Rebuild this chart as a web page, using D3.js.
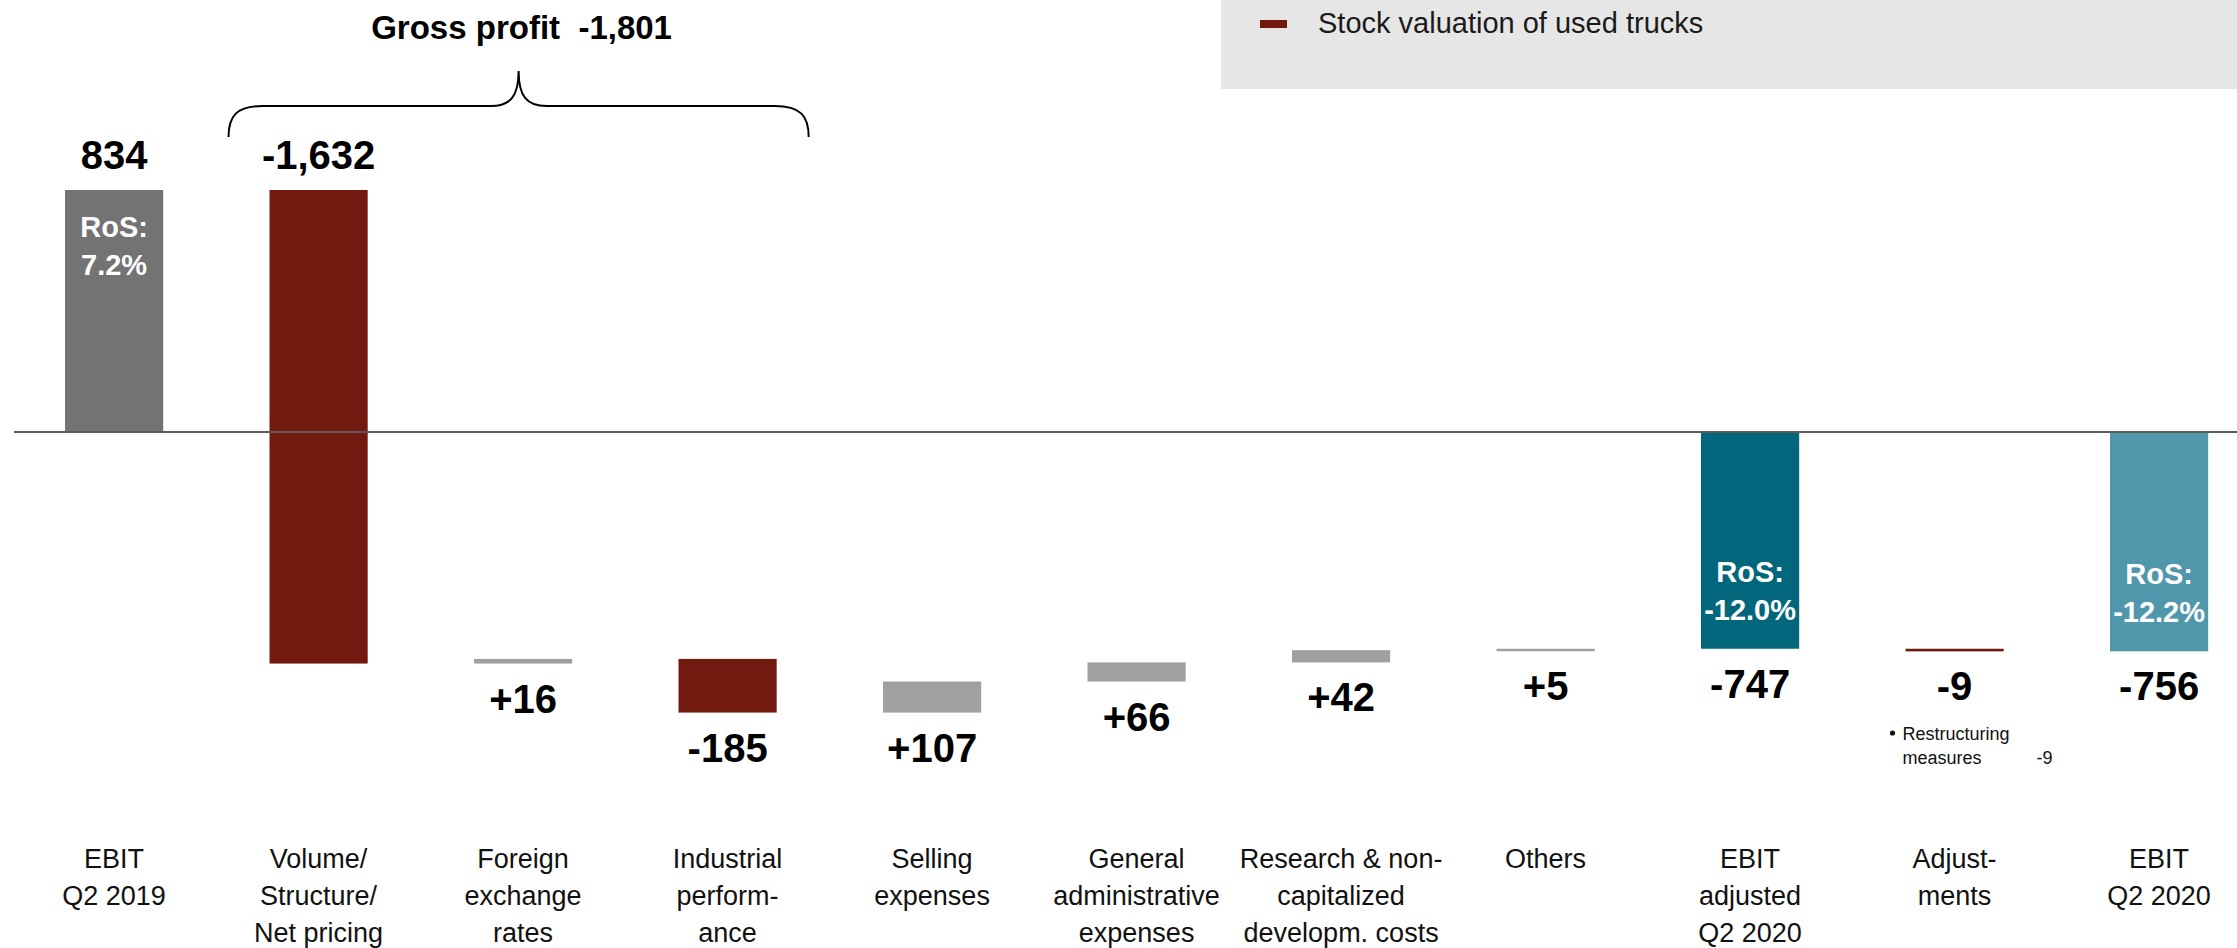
<!DOCTYPE html>
<html>
<head>
<meta charset="utf-8">
<script src="https://cdn.jsdelivr.net/npm/d3@7/dist/d3.min.js"></script>
<style>
  html, body { margin: 0; padding: 0; background: #ffffff; }
  svg { display: block; }
</style>
</head>
<body>
<svg id="chart" width="2237" height="948"></svg>
<script>
// ---------------- data ----------------
const categories = [
  ["EBIT", "Q2 2019"],
  ["Volume/", "Structure/", "Net pricing"],
  ["Foreign", "exchange", "rates"],
  ["Industrial", "perform-", "ance"],
  ["Selling", "expenses"],
  ["General", "administrative", "expenses"],
  ["Research & non-", "capitalized", "developm. costs"],
  ["Others"],
  ["EBIT", "adjusted", "Q2 2020"],
  ["Adjust-", "ments"],
  ["EBIT", "Q2 2020"]
];
const values = [834, -1632, 16, -185, 107, 66, 42, 5, -747, -9, -756];
const barKinds = ["start", "stock", "delta", "stock", "delta", "delta", "delta", "delta", "adjusted", "stock", "end"];
const valueLabels = ["834", "-1,632", "+16", "-185", "+107", "+66", "+42", "+5", "-747", "-9", "-756"];
const rosLabels = ["7.2%", null, null, null, null, null, null, null, "-12.0%", null, "-12.2%"];
const grossProfitLabel = "Gross profit  -1,801";
const legendLabel = "Stock valuation of used trucks";
const noteLines = ["Restructuring", "measures"];
const noteValue = "-9";

const colors = {
  start: "#737373",
  stock: "#721A0F",
  delta: "#A0A0A0",
  adjusted: "#02677C",
  end: "#5197AC"
};

// ---------------- build waterfall ----------------
let running = 0;
const bars = values.map((v, i) => {
  const kind = barKinds[i];
  let a, b;
  if (kind === "start" || kind === "adjusted" || kind === "end") {
    a = 0; b = v; running = v;
  } else {
    a = running; b = running + v; running = b;
  }
  return { i, kind, lo: Math.min(a, b), hi: Math.max(a, b), label: valueLabels[i], ros: rosLabels[i], cat: categories[i] };
});

const svg = d3.select("#chart");
const W = 2237, H = 948;

const x = d3.scaleBand()
  .domain(d3.range(categories.length))
  .range([11.85, 2261.35])
  .paddingInner(0.52)
  .paddingOuter(0.26);

const y = d3.scaleLinear().domain([0, 834]).range([432, 190]);

const FONT = "'Liberation Sans', Arial, sans-serif";

// legend box
svg.append("rect").attr("x", 1221).attr("y", 0).attr("width", W - 1221).attr("height", 89).attr("fill", "#E6E6E6");
svg.append("rect").attr("x", 1260).attr("y", 20).attr("width", 27).attr("height", 8).attr("fill", colors.stock);
svg.append("text").attr("x", 1318).attr("y", 33).attr("font-family", FONT).attr("font-size", 29)
  .attr("fill", "#1a1a1a").text(legendLabel);

// bars
svg.append("g").selectAll("rect").data(bars).join("rect")
  .attr("x", d => x(d.i))
  .attr("width", x.bandwidth())
  .attr("y", d => y(d.hi))
  .attr("height", d => Math.max(2.5, y(d.lo) - y(d.hi)))
  .attr("fill", d => colors[d.kind]);

// baseline on top
svg.append("line").attr("x1", 14).attr("x2", W).attr("y1", y(0)).attr("y2", y(0))
  .attr("stroke", "#5a5a5a").attr("stroke-width", 2);

// value labels
svg.append("g").selectAll("text").data(bars).join("text")
  .attr("x", d => x(d.i) + x.bandwidth() / 2)
  .attr("y", d => d.hi > 0 ? y(d.hi) - 21 : Math.max(y(d.lo), y(d.hi) + 2.5) + 49)
  .attr("text-anchor", "middle")
  .attr("font-family", FONT).attr("font-weight", "bold").attr("font-size", 40)
  .attr("fill", "#000").text(d => d.label);

// RoS labels
const rosG = svg.append("g");
bars.filter(d => d.ros).forEach(d => {
  const cx = x(d.i) + x.bandwidth() / 2;
  const y1 = d.hi > 0 ? y(d.hi) + 47 : y(d.lo) - 67;
  [["RoS:", y1], [d.ros, y1 + 38]].forEach(([t, yy]) => {
    rosG.append("text").attr("x", cx).attr("y", yy).attr("text-anchor", "middle")
      .attr("font-family", FONT).attr("font-weight", "bold").attr("font-size", 29)
      .attr("fill", "#ffffff").text(t);
  });
});

// category labels
const catG = svg.append("g");
bars.forEach(d => {
  const t = catG.append("text").attr("x", x(d.i) + x.bandwidth() / 2).attr("y", 868)
    .attr("text-anchor", "middle").attr("font-family", FONT).attr("font-size", 27).attr("fill", "#111");
  d.cat.forEach((line, k) => {
    t.append("tspan").attr("x", x(d.i) + x.bandwidth() / 2).attr("y", 868 + k * 37).text(line);
  });
});

// brace over gross profit components
const bl = x(1) - 41, br = x(3) + x.bandwidth() + 32;
const bm = (bl + br) / 2;
const yTip = 71, yMid = 106, yEnd = 137, r = 34;
const brace = `M${bl},${yEnd} C${bl},${yMid + 10} ${bl + 8},${yMid} ${bl + r},${yMid} L${bm - r + 6},${yMid} C${bm - 8},${yMid} ${bm},${yMid - 10} ${bm},${yTip} C${bm},${yMid - 10} ${bm + 8},${yMid} ${bm + r - 6},${yMid} L${br - r},${yMid} C${br - 8},${yMid} ${br},${yMid + 10} ${br},${yEnd}`;
svg.append("path").attr("d", brace).attr("fill", "none").attr("stroke", "#000").attr("stroke-width", 2);
svg.append("text").attr("x", bm + 3).attr("y", 39).attr("text-anchor", "middle")
  .attr("font-family", FONT).attr("font-weight", "bold").attr("font-size", 33).attr("fill", "#000")
  .attr("xml:space", "preserve").style("white-space", "pre").text(grossProfitLabel);

// restructuring note under Adjustments
const nx = x(9) - 19;
svg.append("circle").attr("cx", nx + 6).attr("cy", 733).attr("r", 2.6).attr("fill", "#111");
noteLines.forEach((t, k) => {
  svg.append("text").attr("x", nx + 16).attr("y", 740 + k * 24).attr("font-family", FONT)
    .attr("font-size", 18).attr("fill", "#111").text(t);
});
svg.append("text").attr("x", nx + 150).attr("y", 764).attr("font-family", FONT)
  .attr("font-size", 18).attr("fill", "#111").text(noteValue);
</script>
</body>
</html>
